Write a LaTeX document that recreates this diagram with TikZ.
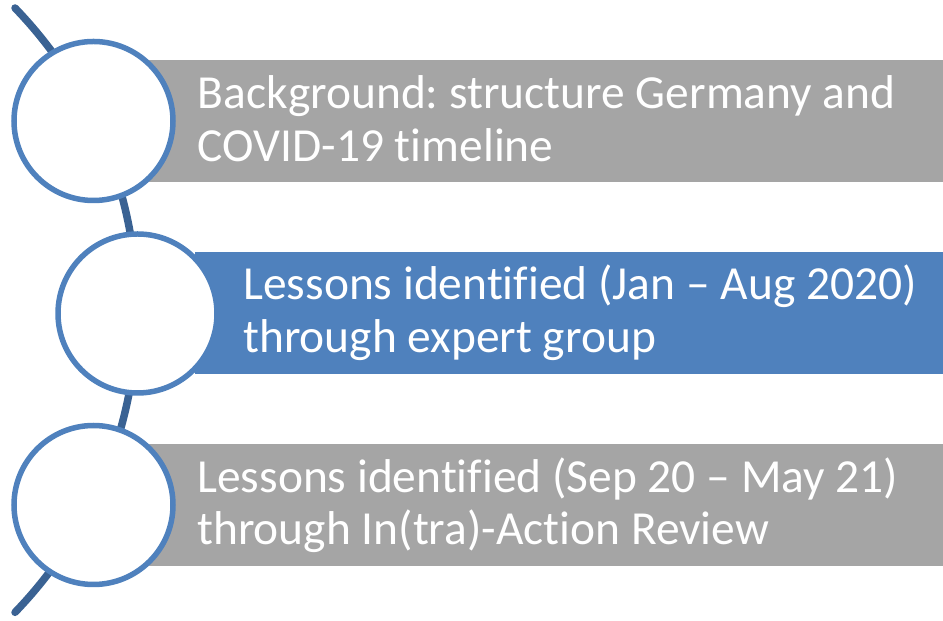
\documentclass[tikz,border=0pt]{standalone}
\usepackage{fontspec}
\setmainfont[Ligatures=NoCommon]{Carlito}
\usetikzlibrary{positioning}
\definecolor{barGray}{HTML}{A5A5A5}
\definecolor{barBlue}{HTML}{4F81BD}
\definecolor{spineBlue}{HTML}{3A6293}
\frenchspacing

\begin{document}
\begin{tikzpicture}[
    bar/.style={rectangle, anchor=east, minimum height=2.43cm, inner sep=0pt},
    ring/.style={draw=barBlue, circle, fill=white, line width=0.11cm, minimum size=3.18cm, inner sep=0pt},
    txt/.style={anchor=west, align=left, text=white, inner sep=0pt, font=\fontsize{27}{29.9}\selectfont}
]
                \useasboundingbox (0,0) rectangle (18.86,12.42);
                \coordinate (top) at (0.30,12.26);
                \draw[spineBlue, line width=0.15cm, line cap=round] (top) arc[start angle=44, end angle=-44, radius=8.70];

                \node[bar, fill=barGray, minimum width=15.92cm] (bar1) at (18.86,10.00) {};
                \node[bar, fill=barBlue, minimum width=14.96cm] (bar2) at (18.86,6.16) {};
                \node[bar, fill=barGray, minimum width=15.92cm] (bar3) at (18.86,2.32) {};

                \node[ring] (c1) at (1.87,10.00) {};
                \node[ring] (c2) at (2.75,6.15) {};
                \node[ring] (c3) at (1.87,2.32) {};

                \node[txt] (t1) at (3.95,10.05) {Background: structure Germany and\\COVID-19 timeline};
                \node[txt] (t2) at (4.86,6.16) {Lessons identified (Jan -- Aug 2020)\\through expert group};
                \node[txt] (t3) at (3.94,2.32) {Lessons identified (Sep 20 -- May 21)\\through In(tra)-Action Review};
            \end{tikzpicture}
\end{document}
